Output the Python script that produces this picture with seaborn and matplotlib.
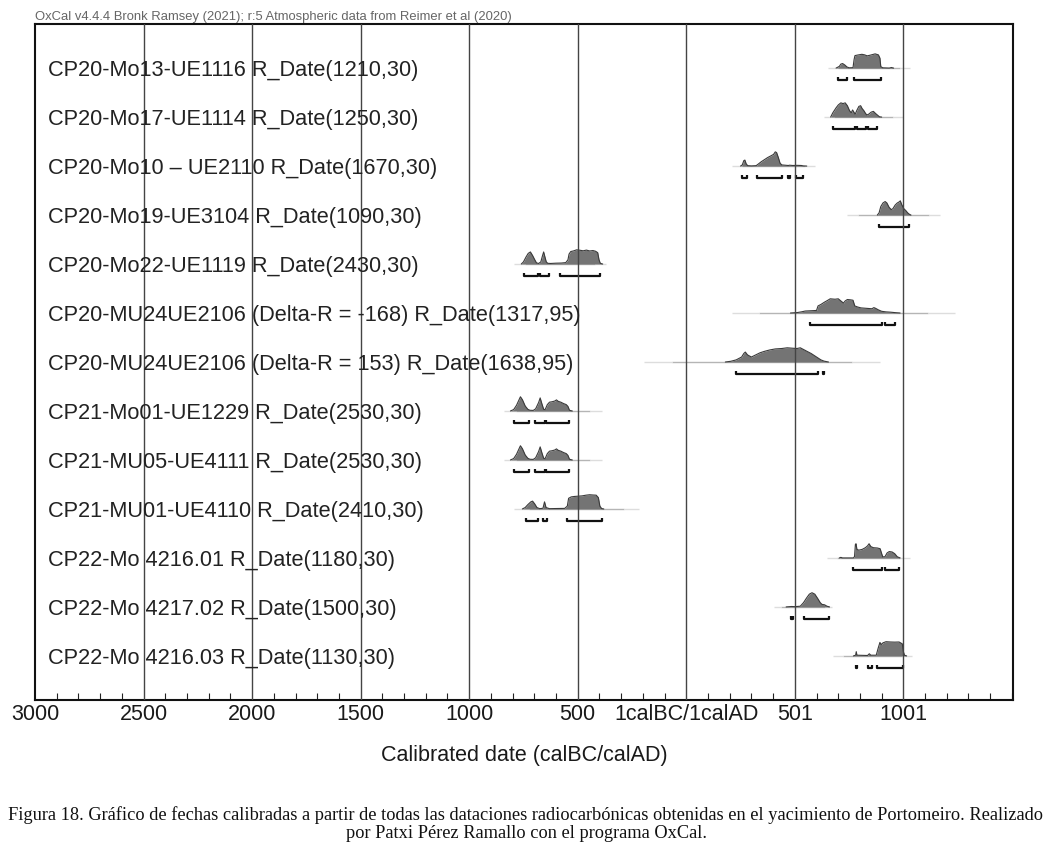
import numpy as np
import pandas as pd
import matplotlib
matplotlib.use('Agg')
import matplotlib.pyplot as plt
import seaborn as sns
from matplotlib.ticker import MultipleLocator
from matplotlib.transforms import blended_transform_factory

labels = [
    "CP20-Mo13-UE1116 R_Date(1210,30)",
    "CP20-Mo17-UE1114 R_Date(1250,30)",
    "CP20-Mo10 \u2013 UE2110 R_Date(1670,30)",
    "CP20-Mo19-UE3104 R_Date(1090,30)",
    "CP20-Mo22-UE1119 R_Date(2430,30)",
    "CP20-MU24UE2106 (Delta-R = -168) R_Date(1317,95)",
    "CP20-MU24UE2106 (Delta-R = 153) R_Date(1638,95)",
    "CP21-Mo01-UE1229 R_Date(2530,30)",
    "CP21-MU05-UE4111 R_Date(2530,30)",
    "CP21-MU01-UE4110 R_Date(2410,30)",
    "CP22-Mo 4216.01 R_Date(1180,30)",
    "CP22-Mo 4217.02 R_Date(1500,30)",
    "CP22-Mo 4216.03 R_Date(1130,30)",
]

# distribuciones (año calAD, altura relativa)
d1_x = [690, 705, 712, 720, 730, 740, 750, 768, 773, 777, 790, 809, 822, 833, 845, 860, 870, 885, 892, 896, 905, 935, 945, 955]
d1_y = [0, 0.12, 0.28, 0.32, 0.22, 0.08, 0.02, 0.03, 0.6, 0.88, 0.92, 0.97, 0.93, 0.86, 0.9, 0.96, 1.0, 0.93, 0.7, 0.1, 0.02, 0, 0.04, 0]
d2_x = [665, 675, 690, 700, 712, 722, 732, 742, 752, 760, 766, 772, 778, 785, 795, 803, 810, 818, 826, 832, 840, 852, 862, 872, 882, 890, 900]
d2_y = [0, 0.3, 0.65, 0.85, 1.0, 0.95, 1.0, 0.8, 0.45, 0.3, 0.5, 0.35, 0.2, 0.45, 0.75, 0.8, 0.6, 0.45, 0.25, 0.15, 0.2, 0.35, 0.4, 0.25, 0.12, 0.02, 0]
d3_x = [250, 258, 265, 270, 276, 283, 300, 322, 330, 345, 360, 375, 390, 402, 410, 416, 424, 432, 440, 470, 476, 490, 510, 530, 540, 555]
d3_y = [0, 0.08, 0.38, 0.42, 0.15, 0.03, 0.01, 0.03, 0.12, 0.3, 0.45, 0.6, 0.72, 0.82, 1.0, 0.95, 0.6, 0.2, 0.08, 0.04, 0.06, 0.04, 0.05, 0.04, 0.01, 0]
d4_x = [880, 888, 896, 906, 916, 924, 934, 944, 952, 962, 972, 980, 986, 992, 1002, 1012, 1020, 1028, 1035]
d4_y = [0, 0.15, 0.6, 0.85, 0.95, 0.85, 0.55, 0.38, 0.45, 0.7, 0.85, 0.92, 1.0, 0.75, 0.45, 0.3, 0.15, 0.05, 0]
d5_x = [-760, -750, -738, -728, -718, -708, -698, -690, -680, -670, -662, -657, -652, -645, -638, -625, -600, -575, -555, -545, -540, -532, -520, -505, -490, -475, -460, -445, -430, -418, -408, -402, -396, -385]
d5_y = [0, 0.15, 0.5, 0.75, 0.85, 0.6, 0.3, 0.08, 0.04, 0.15, 0.6, 0.85, 0.55, 0.15, 0.05, 0.04, 0.06, 0.07, 0.1, 0.3, 0.7, 0.88, 0.92, 1.0, 0.97, 0.93, 0.98, 0.92, 0.95, 0.9, 0.8, 0.3, 0.05, 0]
d6_x = [480, 510, 530, 548, 575, 600, 607, 620, 635, 650, 663, 685, 700, 712, 724, 732, 742, 755, 768, 776, 790, 805, 830, 855, 864, 872, 885, 900, 920, 940, 960, 985]
d6_y = [0, 0.03, 0.08, 0.14, 0.16, 0.18, 0.5, 0.6, 0.75, 0.88, 1.0, 0.97, 1.0, 0.85, 0.7, 0.85, 0.95, 0.93, 0.9, 0.5, 0.42, 0.36, 0.33, 0.3, 0.38, 0.33, 0.22, 0.12, 0.08, 0.06, 0.03, 0]
d7_x = [180, 205, 230, 255, 265, 272, 282, 300, 320, 340, 360, 385, 410, 440, 465, 490, 510, 525, 540, 556, 575, 590, 605, 620, 635, 655]
d7_y = [0, 0.05, 0.15, 0.35, 0.6, 0.7, 0.5, 0.35, 0.5, 0.65, 0.75, 0.85, 0.92, 0.95, 1.0, 0.97, 0.95, 1.0, 0.88, 0.75, 0.6, 0.45, 0.3, 0.15, 0.06, 0]
d8_x = [-810, -795, -782, -770, -764, -755, -742, -730, -720, -705, -694, -680, -673, -665, -657, -650, -640, -630, -618, -606, -598, -590, -578, -565, -553, -545, -538, -525]
d8_y = [0, 0.1, 0.4, 0.8, 1.0, 0.8, 0.35, 0.12, 0.05, 0.04, 0.15, 0.6, 0.92, 0.5, 0.12, 0.1, 0.45, 0.62, 0.65, 0.7, 0.78, 0.68, 0.62, 0.52, 0.45, 0.32, 0.05, 0]
d9_x = d8_x
d9_y = d8_y
d10_x = [-755, -742, -730, -716, -708, -698, -688, -675, -660, -653, -646, -630, -600, -560, -548, -542, -530, -515, -498, -480, -462, -445, -428, -415, -405, -398, -390, -380]
d10_y = [0, 0.1, 0.3, 0.5, 0.55, 0.35, 0.1, 0.02, 0.05, 0.5, 0.1, 0.02, 0.03, 0.04, 0.2, 0.75, 0.85, 0.88, 0.9, 0.92, 0.97, 1.0, 0.98, 0.97, 0.8, 0.2, 0.03, 0]
d11_x = [705, 712, 720, 770, 775, 779, 782, 786, 795, 810, 825, 835, 842, 850, 862, 880, 893, 900, 905, 915, 925, 935, 948, 960, 972, 985]
d11_y = [0, 0.04, 0, 0, 0.1, 0.95, 1.0, 0.6, 0.55, 0.6, 0.72, 0.85, 1.0, 0.8, 0.72, 0.7, 0.65, 0.3, 0.08, 0.08, 0.35, 0.45, 0.42, 0.3, 0.08, 0]
d12_x = [460, 485, 500, 525, 540, 555, 567, 579, 592, 605, 617, 625, 637, 648, 660]
d12_y = [0, 0.03, 0.02, 0.05, 0.3, 0.65, 0.9, 1.0, 0.9, 0.6, 0.3, 0.18, 0.15, 0.05, 0]
d13_x = [770, 780, 783, 786, 835, 843, 850, 875, 884, 892, 898, 906, 920, 940, 960, 980, 995, 1000, 1005, 1015]
d13_y = [0, 0.05, 0.3, 0.05, 0.03, 0.15, 0.05, 0.05, 0.55, 0.95, 0.8, 0.92, 1.0, 0.98, 0.97, 0.98, 0.85, 0.3, 0.05, 0]

# rangos 95.4%
r1 = [(700, 741), (773, 898)]
r2 = [(675, 778), (785, 828), (838, 880)]
r3 = [(256, 282), (327, 440), (470, 476), (506, 537)]
r4 = [(890, 1028)]
r5 = [(-746, -683), (-675, -631), (-583, -399)]
r6 = [(571, 901), (916, 962)]
r7 = [(230, 609), (628, 634)]
r8 = [(-795, -726), (-696, -651), (-648, -540)]
r9 = [(-795, -726), (-696, -651), (-648, -540)]
r10 = [(-737, -685), (-660, -641), (-549, -390)]
r11 = [(770, 901), (916, 981)]
r12 = [(483, 490), (540, 656)]
r13 = [(780, 786), (835, 855), (877, 1000)]

# linea base de cada fila
line_start = [654, 635, 210, 740, -795, 210, -197, -841, -841, -795, 648, 402, 678]
line_end = [1031, 998, 594, 1169, -370, 1238, 893, -388, -388, -219, 1031, 671, 1039]

tick_pos = [-3000, -2500, -2000, -1500, -1000, -500, 0, 500, 1000]
tick_labels = ["3000", "2500", "2000", "1500", "1000", "500", "1calBC/1calAD", "501", "1001"]

dist_x = [d1_x, d2_x, d3_x, d4_x, d5_x, d6_x, d7_x, d8_x, d9_x, d10_x, d11_x, d12_x, d13_x]
dist_y = [d1_y, d2_y, d3_y, d4_y, d5_y, d6_y, d7_y, d8_y, d9_y, d10_y, d11_y, d12_y, d13_y]
ranges = [r1, r2, r3, r4, r5, r6, r7, r8, r9, r10, r11, r12, r13]

H = 0.29      # altura maxima de la distribucion (en filas)
BR = 0.24     # desplazamiento de los corchetes

# tabla larga para seaborn
rows = []
for i, (xs, ys) in enumerate(zip(dist_x, dist_y)):
    for x, y in zip(xs, ys):
        rows.append({'fila': i, 'year': x, 'ypos': i - y * H})
df = pd.DataFrame(rows)

sns.set_theme(style='white')
plt.rcParams['font.family'] = ['Liberation Sans', 'DejaVu Sans']

fig = plt.figure(figsize=(10.52, 8.68), dpi=100)
ax = fig.add_axes([35 / 1052, 1 - 700 / 868, 978 / 1052, 676 / 868])

# lineas base (con extremos mas claros)
for i, (a, b) in enumerate(zip(line_start, line_end)):
    w = (b - a) * 0.12
    ax.hlines(i, a + w, b - w, color='#b5b5b5', lw=1.0, zorder=1)
    ax.hlines(i, a, a + w, color='#dddddd', lw=1.0, zorder=1)
    ax.hlines(i, b - w, b, color='#dddddd', lw=1.0, zorder=1)

# relleno de las distribuciones
for i, (xs, ys) in enumerate(zip(dist_x, dist_y)):
    ax.fill_between(xs, [i] * len(xs), [i - y * H for y in ys], color='#747474', lw=0, zorder=2)

sns.lineplot(data=df, x='year', y='ypos', units='fila', estimator=None, sort=False,
             color='#3a3a3a', lw=0.8, ax=ax, zorder=2.5, legend=False)

# corchetes de rango
for i, rr in enumerate(ranges):
    for a, b in rr:
        ax.plot([a, a, b, b], [i + BR - 0.06, i + BR, i + BR, i + BR - 0.06],
                color='#111111', lw=1.6, solid_capstyle='butt', zorder=3)

# lineas verticales
for t in tick_pos[1:]:
    ax.axvline(t, color='#444444', lw=1.0, zorder=3.5)

trans = blended_transform_factory(ax.transAxes, ax.transData)
for i, lab in enumerate(labels):
    ax.text(13 / 978, i, lab, transform=trans, ha='left', va='center_baseline',
            fontsize=15.7, color='#222222', zorder=4)

ax.set_xlim(-3000, 1505)
ax.set_ylim(len(labels) - 0.1, -0.9)
ax.set_yticks([])
ax.set_xticks(tick_pos)
ax.set_xticklabels(tick_labels)
ax.xaxis.set_minor_locator(MultipleLocator(100))
ax.tick_params(axis='x', which='major', direction='in', length=0, pad=3, labelsize=15.5, colors='#1a1a1a')
ax.tick_params(axis='x', which='minor', direction='in', length=5, width=0.8, bottom=True, top=False, color='#222222')
ax.set_xlabel('Calibrated date (calBC/calAD)', fontsize=15.5, labelpad=14, color='#1a1a1a')
ax.set_ylabel('')
for s in ax.spines.values():
    s.set_color('#111111')
    s.set_linewidth(1.5)
    s.set_visible(True)

fig.text(35 / 1052, 1 - 23 / 868,
         'OxCal v4.4.4 Bronk Ramsey (2021); r:5 Atmospheric data from Reimer et al (2020)',
         ha='left', va='bottom', fontsize=9.4, color='#666666')

fig.text(0.5, 1 - 815 / 868,
         'Figura 18. Gráfico de fechas calibradas a partir de todas las dataciones radiocarbónicas '
         'obtenidas en el yacimiento de Portomeiro. Realizado',
         ha='center', va='center', family='Liberation Serif', fontsize=13.2, color='#111111')
fig.text(0.5, 1 - 834 / 868, 'por Patxi Pérez Ramallo con el programa OxCal.',
         ha='center', va='center', family='Liberation Serif', fontsize=13.2, color='#111111')

fig.savefig('out.png', dpi=100, facecolor='white')
